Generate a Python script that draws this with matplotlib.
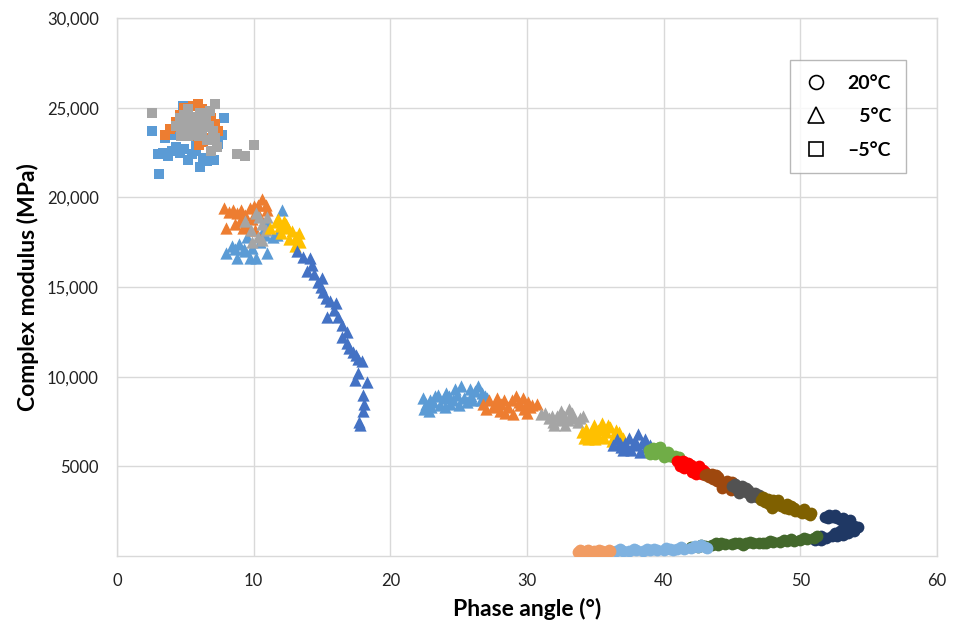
import matplotlib
matplotlib.use("Agg")
import matplotlib.pyplot as plt
from matplotlib.lines import Line2D
from matplotlib.ticker import FixedLocator

plt.rcParams['font.family'] = ['Lato', 'DejaVu Sans']

# ---- -5 C (squares) ----
sq_blue_x = [2.6, 3.0, 3.1, 3.4, 3.7, 4.0, 4.3, 4.6, 4.9, 5.2, 5.5, 5.8, 6.1, 6.3, 6.6, 6.9, 7.1, 7.4, 7.7, 7.8, 4.8, 3.5, 4.2, 5.8]
sq_blue_y = [23700, 22400, 21300, 22500, 22300, 22600, 22800, 22500, 22700, 22100, 22400, 22600, 21700, 22200, 22000, 22300, 22100, 23000, 23500, 24400, 25100, 23300, 23500, 23000]
sq_orange_x = [3.5, 3.9, 4.3, 4.6, 4.9, 5.2, 5.6, 5.9, 6.2, 6.5, 6.9, 7.2, 7.4, 6.8, 6.3, 5.7, 5.1, 4.5, 6.0, 5.4]
sq_orange_y = [23500, 23800, 24200, 24600, 25000, 24800, 25100, 25200, 24900, 24700, 24400, 24100, 23700, 23300, 23100, 23400, 23600, 23900, 22900, 24300]
sq_gray_x = [2.6, 4.3, 4.6, 4.9, 5.2, 5.5, 5.8, 6.1, 6.4, 6.7, 7.0, 7.2, 7.3, 7.2, 5.0, 5.6, 6.2, 6.6, 4.7, 5.3, 6.9, 8.8, 9.4, 10.0, 5.9, 6.8,
             5.5, 6.0, 6.5, 4.8, 5.2, 6.3]
sq_gray_y = [24700, 24000, 24400, 24600, 24900, 24500, 24200, 24700, 24300, 24000, 23700, 23300, 22800, 25200, 23900, 23500, 23700, 23200, 23400, 24100, 22600, 22400, 22300, 22900, 23900, 24800,
             24000, 23400, 24500, 24200, 23400, 23900]

# ---- 5 C (triangles), high modulus group ----
tr_lblue_x = [8.0, 8.4, 8.8, 8.9, 9.3, 9.5, 9.7, 9.9, 10.2, 10.5, 10.8, 11.0, 11.0, 11.4, 11.7, 12.1, 9.4, 10.7, 8.6]
tr_lblue_y = [16900, 17300, 16600, 17400, 17100, 17800, 16600, 17200, 16600, 17500, 17900, 16900, 18500, 17800, 17900, 19300, 17000, 18100, 17100]
tr_orange_x = [7.8, 8.2, 8.5, 8.8, 9.1, 9.4, 9.7, 10.0, 10.3, 10.6, 10.9, 8.0, 8.6, 9.0, 9.5, 9.9, 10.4, 11.0, 9.2, 10.1]
tr_orange_y = [19400, 19200, 19300, 19100, 19300, 19000, 19400, 19500, 19600, 19900, 19600, 18300, 18500, 18700, 18400, 18800, 19000, 19300, 18300, 18200]
tr_gray_x = [9.4, 9.8, 10.2, 10.4, 10.6, 10.9, 10.3, 10.6, 9.9, 11.0]
tr_gray_y = [18700, 18200, 19100, 18900, 18500, 18200, 17800, 17600, 17500, 18900]
tr_yellow_x = [11.2, 11.6, 11.9, 12.2, 12.5, 12.8, 13.1, 13.4, 12.0, 12.6, 13.0, 11.8, 12.4, 13.3]
tr_yellow_y = [18300, 18600, 18400, 18700, 18300, 18100, 17800, 17500, 18000, 17700, 17300, 18800, 18500, 18000]
tr_dblue_x = [13.2, 13.6, 14.1, 13.9, 14.4, 14.7, 14.9, 15.1, 15.3, 15.6, 15.4, 15.9, 16.2, 16.5, 16.5, 16.8, 17.0, 17.3, 17.6, 17.9,
              17.6, 17.4, 18.3, 18.0, 18.1, 18.0, 17.7, 17.8, 14.3, 15.0, 16.0, 16.8, 17.5]
tr_dblue_y = [17000, 16700, 16600, 15900, 15700, 15300, 15000, 14700, 14400, 14200, 13300, 13700, 13300, 12900, 12200, 11900, 11600, 11400, 11000, 10900,
              10200, 9800, 9700, 9000, 8500, 8100, 7500, 7300, 16200, 15500, 14100, 12500, 11200]

# ---- triangles, lower modulus group ----
tr2_lblue_x = [22.4, 22.6, 22.8, 23.1, 23.3, 23.6, 23.9, 24.1, 24.4, 24.6, 24.9, 25.2, 25.4, 25.6, 25.9, 26.2, 26.4, 26.6, 26.9, 27.1, 23.0, 24.0, 25.0,
               22.9, 23.5, 24.3, 24.7, 25.8, 26.0, 26.7, 22.5]
tr2_lblue_y = [8800, 8500, 8100, 8600, 8900, 8400, 8800, 9100, 8500, 8700, 9000, 9500, 8800, 8600, 8900, 9200, 9500, 8700, 8900, 8800, 8300, 8300, 8400,
               8700, 9000, 8900, 9300, 9300, 8700, 9100, 8200]
tr2_orange_x = [26.8, 27.2, 27.5, 27.8, 28.1, 28.4, 28.6, 28.9, 29.2, 29.5, 29.8, 30.1, 30.4, 30.7, 28.0, 29.0, 30.0, 27.0, 27.7, 28.3, 29.4, 30.2, 29.7]
tr2_orange_y = [8500, 8700, 8300, 8800, 8500, 8000, 8300, 8700, 8900, 8400, 8200, 8600, 8400, 8500, 8100, 7900, 8000, 8200, 8600, 8700, 8600, 8300, 8800]
tr2_gray_x = [31.0, 31.3, 31.6, 31.9, 32.2, 32.5, 32.8, 33.1, 33.4, 33.7, 34.1, 32.0, 33.0, 31.8, 32.4, 33.3, 33.9, 32.7]
tr2_gray_y = [7900, 8000, 7700, 7500, 7800, 8100, 7300, 8200, 7700, 7500, 7800, 7300, 7600, 7800, 7600, 8000, 7700, 7800]
tr2_yellow_x = [34.0, 34.3, 34.6, 34.9, 35.2, 35.5, 35.8, 36.1, 36.4, 36.7, 37.0, 35.0, 35.6, 36.2, 34.5, 34.2, 34.8, 35.4, 35.9, 36.5, 35.2]
tr2_yellow_y = [6900, 7100, 6800, 7300, 7000, 7400, 6900, 7200, 6700, 6900, 6600, 6500, 6600, 6400, 6500, 6600, 6900, 7100, 7300, 7000, 6700]
tr2_dblue_x = [36.3, 36.6, 36.9, 37.2, 37.5, 37.8, 38.1, 38.4, 38.7, 39.0, 37.0, 37.6, 38.3, 36.8, 37.3, 37.9, 38.6, 38.9]
tr2_dblue_y = [6200, 6500, 6100, 6300, 6600, 6200, 6800, 6300, 6100, 6200, 5900, 5900, 5800, 6300, 6000, 6400, 6500, 5900]

# ---- 20 C (circles) ----
ci_green_x = [38.9, 39.2, 39.5, 39.8, 40.1, 40.4, 40.7, 41.0, 39.7, 40.0, 39.4, 41.3, 39.0, 39.6, 40.3, 40.8, 41.1]
ci_green_y = [5900, 6000, 5800, 5900, 5700, 5600, 5500, 5400, 6100, 5500, 5700, 5300, 5700, 6000, 5800, 5600, 5500]
ci_red_x = [41.0, 41.3, 41.6, 41.9, 42.2, 42.5, 42.8, 41.5, 42.0, 42.4, 41.2, 43.0, 41.4, 41.8, 42.6, 42.1, 42.9]
ci_red_y = [5300, 5100, 5200, 5000, 4900, 4800, 4600, 4900, 5100, 4600, 5000, 4700, 5300, 5200, 5000, 4700, 4800]
ci_brown_x = [43.0, 43.3, 43.6, 43.9, 44.2, 44.5, 44.8, 45.1, 43.5, 44.3, 44.0, 45.4, 43.2, 43.8, 44.6, 45.0, 44.9, 45.6]
ci_brown_y = [4500, 4400, 4300, 4200, 4100, 4000, 3900, 3800, 4600, 3800, 4400, 3700, 4600, 4500, 4200, 4100, 3700, 3800]
ci_dgray_x = [45.0, 45.3, 45.6, 45.9, 46.2, 46.5, 46.8, 47.1, 45.7, 46.2, 46.4, 45.2, 45.5, 46.0, 46.7, 47.0]
ci_dgray_y = [3900, 3800, 3700, 3600, 3500, 3400, 3300, 3200, 3900, 3700, 3300, 4000, 3500, 3800, 3500, 3400]
ci_olive_x = [47.1, 47.4, 47.7, 48.0, 48.3, 48.6, 48.9, 49.2, 49.5, 49.8, 50.1, 50.4, 50.7, 47.3, 48.1, 47.6, 48.4, 49.0, 49.6, 50.3, 50.8, 49.3, 47.9]
ci_olive_y = [3100, 3000, 2900, 3100, 2900, 2800, 2700, 2600, 2700, 2500, 2400, 2400, 2300, 3300, 2800, 3200, 3100, 2900, 2500, 2600, 2400, 2800, 2700]
ci_navy_x = [51.8, 52.1, 52.4, 52.7, 53.0, 53.3, 53.6, 53.9, 54.2, 53.9, 53.5, 53.1, 52.7, 52.3, 51.9, 51.5, 51.1, 53.7, 52.9,
             52.0, 52.5, 53.1, 53.6, 54.0, 52.5, 51.5, 53.2]
ci_navy_y = [2200, 2300, 2200, 2100, 2000, 1900, 1800, 1700, 1600, 1400, 1300, 1200, 1100, 1100, 1000, 900, 900, 1500, 1400,
             2100, 2300, 2100, 2000, 1500, 1300, 1100, 1600]
ci_dgreen_x = [42.0, 42.5, 43.0, 43.5, 44.0, 44.5, 45.0, 45.5, 46.0, 46.5, 47.0, 47.5, 48.0, 48.5, 49.0, 49.5, 50.0, 50.5, 51.0, 44.2, 45.8, 47.3, 48.8,
               42.7, 43.8, 45.2, 46.3, 47.8, 49.3, 50.3, 51.2]
ci_dgreen_y = [500, 500, 550, 600, 600, 650, 650, 700, 700, 700, 750, 750, 800, 800, 850, 850, 900, 950, 1000, 700, 600, 700, 900,
               600, 700, 750, 800, 850, 950, 1000, 1100]
ci_lblue_x = [36.5, 37.0, 37.5, 38.0, 38.5, 39.0, 39.5, 40.0, 40.5, 41.0, 41.5, 42.0, 42.5, 43.0, 38.8, 40.7, 42.3, 36.8, 37.8, 39.3, 40.2, 41.3, 42.7, 43.2]
ci_lblue_y = [300, 300, 300, 350, 300, 350, 350, 350, 400, 400, 400, 450, 500, 500, 400, 350, 550, 400, 400, 400, 450, 500, 600, 450]
ci_lorange_x = [33.7, 34.0, 34.3, 34.6, 34.9, 35.2, 35.5, 35.8, 36.1, 33.9, 34.5, 35.3, 36.0, 35.0]
ci_lorange_y = [250, 300, 300, 250, 300, 300, 300, 250, 300, 350, 350, 350, 350, 200]

y_ticks = [5000, 10000, 15000, 20000, 25000, 30000]
y_labels = ['5000', '10,000', '15,000', '20,000', '25,000', '30,000']
legend_labels = ['20°C', '\u20075°C', '–5°C']

series = [
    (sq_blue_x, sq_blue_y, 's', '#5B9BD5', 52),
    (sq_orange_x, sq_orange_y, 's', '#ED7D31', 52),
    (sq_gray_x, sq_gray_y, 's', '#A5A5A5', 52),
    (tr_lblue_x, tr_lblue_y, '^', '#5B9BD5', 78),
    (tr_orange_x, tr_orange_y, '^', '#ED7D31', 78),
    (tr_gray_x, tr_gray_y, '^', '#A5A5A5', 78),
    (tr_yellow_x, tr_yellow_y, '^', '#FFC000', 78),
    (tr_dblue_x, tr_dblue_y, '^', '#4472C4', 78),
    (tr2_lblue_x, tr2_lblue_y, '^', '#5B9BD5', 78),
    (tr2_orange_x, tr2_orange_y, '^', '#ED7D31', 78),
    (tr2_gray_x, tr2_gray_y, '^', '#A5A5A5', 78),
    (tr2_yellow_x, tr2_yellow_y, '^', '#FFC000', 78),
    (tr2_dblue_x, tr2_dblue_y, '^', '#4472C4', 78),
    (ci_green_x, ci_green_y, 'o', '#70AD47', 72),
    (ci_red_x, ci_red_y, 'o', '#FF0000', 72),
    (ci_brown_x, ci_brown_y, 'o', '#9E480E', 72),
    (ci_dgray_x, ci_dgray_y, 'o', '#525252', 72),
    (ci_olive_x, ci_olive_y, 'o', '#7F6000', 72),
    (ci_navy_x, ci_navy_y, 'o', '#1F3864', 72),
    (ci_dgreen_x, ci_dgreen_y, 'o', '#43682B', 72),
    (ci_lblue_x, ci_lblue_y, 'o', '#7FB2E0', 72),
    (ci_lorange_x, ci_lorange_y, 'o', '#F19C63', 72),
]

fig = plt.figure(figsize=(9.54, 6.27), dpi=100)
ax = fig.add_axes([0.1226, 0.1132, 0.8596, 0.8581])

for xs, ys, m, c, s in series:
    ax.scatter(xs, ys, marker=m, s=s, color=c, linewidths=0, zorder=3)

ax.set_xlim(0, 60)
ax.set_ylim(0, 30000)
ax.set_xticks(range(0, 61, 10))
ax.yaxis.set_major_locator(FixedLocator(y_ticks))
ax.set_yticklabels(y_labels)
ax.grid(True, color='#D9D9D9', linewidth=1)
ax.set_axisbelow(True)
for sp in ax.spines.values():
    sp.set_color('#D9D9D9')
    sp.set_linewidth(1)
ax.tick_params(length=0, labelsize=12, colors='#222222')
ax.tick_params(axis='x', pad=12)
ax.tick_params(axis='y', pad=13)

ax.set_xlabel('Phase angle (°)', fontsize=16.5, fontweight='bold', labelpad=7)
ax.set_ylabel('Complex modulus (MPa)', fontsize=16.5, fontweight='bold', labelpad=6)

handles = [
    Line2D([], [], marker='o', linestyle='none', markersize=10, markerfacecolor='white', markeredgecolor='black', markeredgewidth=1.2),
    Line2D([], [], marker='^', linestyle='none', markersize=11.5, markerfacecolor='white', markeredgecolor='black', markeredgewidth=1.2),
    Line2D([], [], marker='s', linestyle='none', markersize=9.5, markerfacecolor='white', markeredgecolor='black', markeredgewidth=1.2),
]
leg = ax.legend(handles, legend_labels, loc='upper left', bbox_to_anchor=(0.821, 0.922),
                prop={'size': 14, 'weight': 'bold'}, frameon=True, fancybox=False,
                labelspacing=0.85, handletextpad=1.0, borderpad=0.75, handlelength=1.2, borderaxespad=0)
leg.get_frame().set_edgecolor('#A6A6A6')
leg.get_frame().set_linewidth(1)

fig.savefig('out.png', dpi=100)
